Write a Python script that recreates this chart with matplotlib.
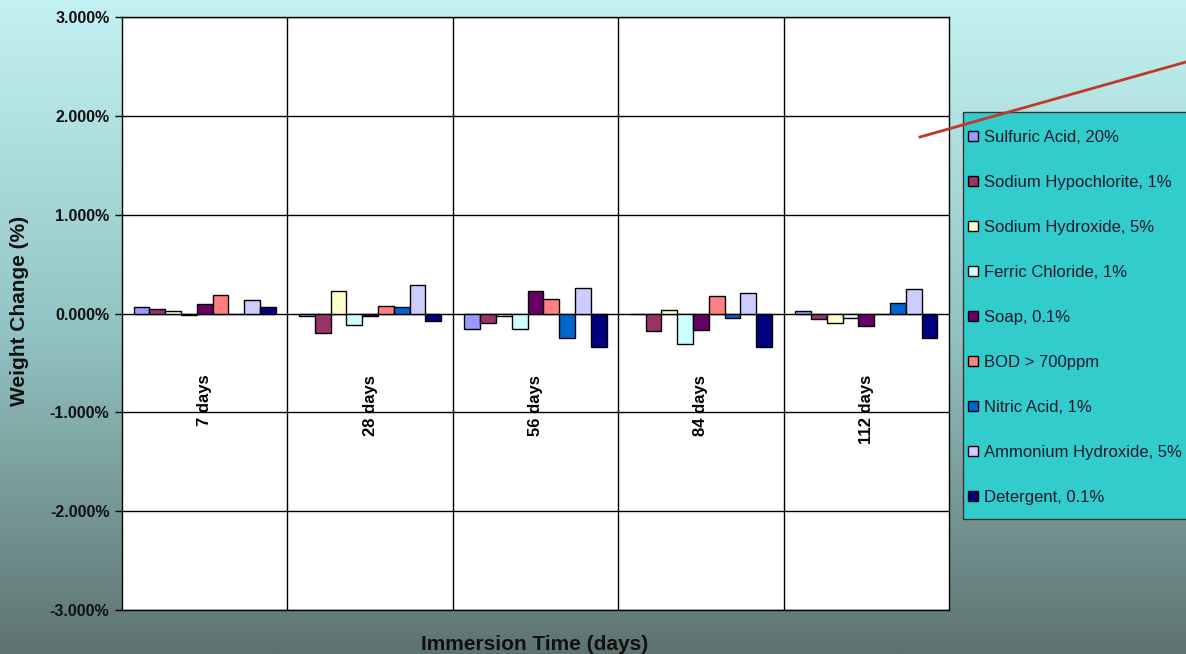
import numpy as np
import matplotlib
matplotlib.use("Agg")
import matplotlib.pyplot as plt
from matplotlib.colors import LinearSegmentedColormap
from matplotlib.lines import Line2D
from matplotlib.patches import Rectangle

# data (weight change in %)
categories = ["7 days", "28 days", "56 days", "84 days", "112 days"]
series_names = ["Sulfuric Acid, 20%", "Sodium Hypochlorite, 1%", "Sodium Hydroxide, 5%",
                "Ferric Chloride, 1%", "Soap, 0.1%", "BOD > 700ppm", "Nitric Acid, 1%",
                "Ammonium Hydroxide, 5%", "Detergent, 0.1%"]
sulfuric = [0.068, -0.030, -0.155, -0.010, 0.027]
hypochlorite = [0.050, -0.200, -0.100, -0.180, -0.057]
hydroxide = [0.027, 0.230, -0.030, 0.037, -0.100]
ferric = [-0.017, -0.115, -0.155, -0.307, -0.045]
soap = [0.098, -0.030, 0.230, -0.170, -0.128]
bod = [0.190, 0.080, 0.145, 0.175, 0.0]
nitric = [0.0, 0.065, -0.250, -0.047, 0.110]
ammonium = [0.135, 0.287, 0.257, 0.205, 0.245]
detergent = [0.068, -0.075, -0.334, -0.334, -0.250]
series = [sulfuric, hypochlorite, hydroxide, ferric, soap, bod, nitric, ammonium, detergent]
colors = ["#9999FF", "#993366", "#FFFFCC", "#CCFFFF", "#660066",
          "#FF8080", "#0066CC", "#CCCCFF", "#000080"]
y_ticks = [-3, -2, -1, 0, 1, 2, 3]

plt.rcParams["font.family"] = ["Liberation Sans", "DejaVu Sans"]

fig = plt.figure(figsize=(11.86, 6.54), dpi=100)

# gradient background
bg = fig.add_axes([0, 0, 1, 1], zorder=-10)
cmap = LinearSegmentedColormap.from_list("bg", ["#C4F2F2", "#93C4C4", "#5E7370"])
bg.imshow(np.linspace(0, 1, 256).reshape(-1, 1), aspect="auto", cmap=cmap,
          extent=[0, 1, 0, 1])
bg.axis("off")

ax = fig.add_axes([122 / 1186, 1 - 610 / 654, (949 - 122) / 1186, (610 - 17) / 654])
ax.set_facecolor("white")

x = np.arange(len(categories))
n = len(series)
width = 0.0955
for i, (vals, name, col) in enumerate(zip(series, series_names, colors)):
    offs = (i - (n - 1) / 2) * width
    ax.bar(x + offs, vals, width, color=col, edgecolor="black", linewidth=1,
           label=name, zorder=3)

ax.set_xlim(-0.5, len(categories) - 0.5)
ax.set_ylim(-3, 3)
ax.set_yticks(y_ticks)
ax.set_yticklabels([f"{v:.3f}%" for v in y_ticks], fontweight="bold", fontsize=11.5,
                   color="#111111")
ax.tick_params(axis="y", direction="out", length=5, width=1, pad=4)
ax.set_xticks([])
ax.set_xticks(np.arange(0.5, len(categories) - 0.5, 1), minor=True)
ax.tick_params(axis="x", which="both", length=0)
ax.grid(axis="y", color="black", linewidth=1, zorder=1)
ax.grid(axis="x", which="minor", color="black", linewidth=1, zorder=1)
ax.set_axisbelow(True)
for sp in ax.spines.values():
    sp.set_color("black")
    sp.set_linewidth(1)

for xi, lab in zip(x, categories):
    ax.text(xi, -0.62, lab, rotation=90, ha="center", va="top", fontsize=12,
            fontweight="bold", zorder=4)

fig.text(20 / 1186, 1 - 311 / 654, "Weight Change (%)", rotation=90, ha="center",
         va="center", fontsize=15, fontweight="bold", color="#111111")
fig.text(535 / 1186, 1 - 644 / 654, "Immersion Time (days)", ha="center",
         va="center", fontsize=15, fontweight="bold", color="#111111")

# legend box
fig.add_artist(Rectangle((963 / 1186, 1 - 519 / 654), 0.2, (519 - 112) / 654,
                         transform=fig.transFigure, facecolor="#33CCCC",
                         edgecolor="#333333", linewidth=1, zorder=5))
leg = fig.legend(loc="upper left", bbox_to_anchor=(968 / 1186, 1 - 130 / 654),
                 fontsize=12, labelspacing=1.8, handlelength=0.6, handleheight=0.6,
                 handletextpad=0.36, borderpad=0, borderaxespad=0, frameon=False)
leg.set_zorder(6)
for t in leg.get_texts():
    t.set_color("#1a1a2a")

fig.add_artist(Line2D([920 / 1186, 1.0], [1 - 137 / 654, 1 - 62 / 654],
                      transform=fig.transFigure, color="#C0392B", linewidth=2,
                      zorder=20))

fig.savefig("out.png", dpi=100)
